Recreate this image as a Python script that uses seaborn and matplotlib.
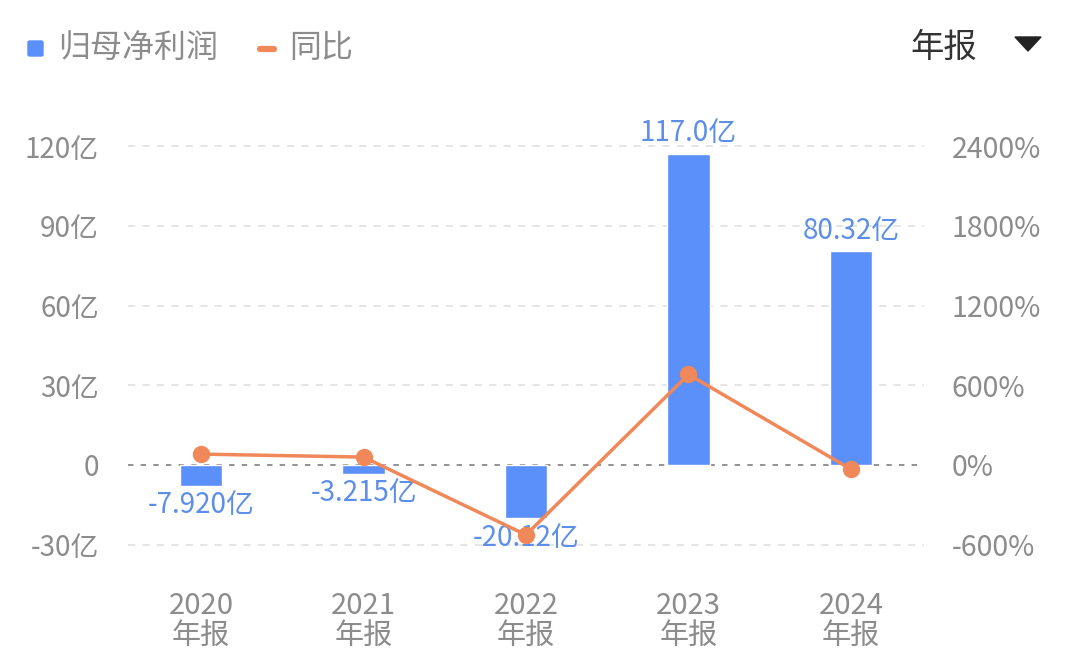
import matplotlib
matplotlib.use("Agg")
import matplotlib.pyplot as plt
import seaborn as sns
import pandas as pd
from matplotlib.patches import FancyBboxPatch, Polygon
from matplotlib.lines import Line2D

years = ["2020", "2021", "2022", "2023", "2024"]
period = "年报"
profit = [-7.920, -3.215, -20.12, 117.0, 80.32]          # 亿
profit_labels = ["-7.920亿", "-3.215亿", "-20.12亿", "117.0亿", "80.32亿"]
yoy = [82.0, 59.4, -525.8, 681.4, -31.4]                 # %
left_ticks = [-30, 0, 30, 60, 90, 120]
left_labels = ["-30亿", "0", "30亿", "60亿", "90亿", "120亿"]
right_ticks = [-600, 0, 600, 1200, 1800, 2400]
right_labels = ["-600%", "0%", "600%", "1200%", "1800%", "2400%"]
legend_names = ["归母净利润", "同比"]

sns.set_theme(style="white")
plt.rcParams['font.family'] = ['Noto Sans CJK SC', 'DejaVu Sans']

BLUE = "#5b8ff9"
LBLUE = "#5d8ee8"
ORANGE = "#f0885a"
GRAY = "#8c8c8c"

W, H = 1080, 653
fig = plt.figure(figsize=(W/100, H/100), dpi=100)
x0, x1, ytop, ybot = 128, 924, 100, 570
ax = fig.add_axes([x0/W, 1-ybot/H, (x1-x0)/W, (ybot-ytop)/H])

df = pd.DataFrame({"year": years, "profit": profit, "yoy": yoy})
sns.barplot(data=df, x="year", y="profit", ax=ax, color=BLUE, saturation=1,
            width=0.26, order=years)

pxu = (465-146)/120.0
ymax = (465-ytop)/pxu
ymin = -(ybot-465)/pxu
ax.set_ylim(ymin, ymax)
ax.set_xlim(-0.45, 4.45)

ax2 = ax.twinx()
ax2.plot(range(len(years)), yoy, color=ORANGE, lw=2.5, marker="o", ms=12.5,
         markeredgewidth=0, zorder=5)
ax2.set_ylim(ymin*20, ymax*20)
ax2.set_xlim(-0.45, 4.45)

for a in (ax, ax2):
    for s in a.spines.values():
        s.set_visible(False)
    a.grid(False)

ax.set_yticks(left_ticks)
ax.set_yticklabels(left_labels, color=GRAY, fontsize=20)
ax2.set_yticks(right_ticks)
ax2.set_yticklabels(right_labels, color=GRAY, fontsize=20.5)
ax.tick_params(axis="y", length=0, pad=21)
ax2.tick_params(axis="y", length=0, pad=20)
ax.set_xticks(range(len(years)))
ax.set_xticklabels([f"{y}\n{period}" for y in years], color=GRAY, fontsize=21,
                   linespacing=1.0)
ax.tick_params(axis="x", length=0, pad=15)
ax.set_xlabel("")
ax.set_ylabel("")

for t in left_ticks:
    if t == 0:
        ax.axhline(0, color="#8a8a8a", lw=1.3, ls=(0, (3, 4)), zorder=0.5)
    else:
        ax.axhline(t, color="#e3e3e3", lw=1.3, ls=(0, (4, 4)), zorder=0.5)

for i, (v, lab) in enumerate(zip(profit, profit_labels)):
    if v >= 0:
        ax.annotate(lab, (i, v), xytext=(0, 4), textcoords="offset points",
                    ha="center", va="bottom", color=LBLUE, fontsize=20)
    else:
        ax.annotate(lab, (i, v), xytext=(0, -3), textcoords="offset points",
                    ha="center", va="top", color=LBLUE, fontsize=20)

# legend
fig.patches.append(FancyBboxPatch((28/W, 1-56/H), 15/W, 15/H, boxstyle="round,pad=0,rounding_size=0.002",
                                  transform=fig.transFigure, color=BLUE))
fig.text(58/W, 1-48/H, legend_names[0], color=GRAY, fontsize=23, va="center", ha="left")
fig.lines.append(Line2D([260/W, 274/W], [1-48.5/H, 1-48.5/H], transform=fig.transFigure,
                        color=ORANGE, lw=4.5, solid_capstyle="round"))
fig.text(289/W, 1-48/H, legend_names[1], color=GRAY, fontsize=23, va="center", ha="left")

# period selector
fig.text(910/W, 1-47/H, period, color="#333333", fontsize=24, va="center", ha="left")
fig.patches.append(Polygon([[1015/W, 1-37/H], [1041/W, 1-37/H], [1028/W, 1-51/H]],
                           closed=True, transform=fig.transFigure, color="#222222"))

fig.savefig("out.png", dpi=100)
